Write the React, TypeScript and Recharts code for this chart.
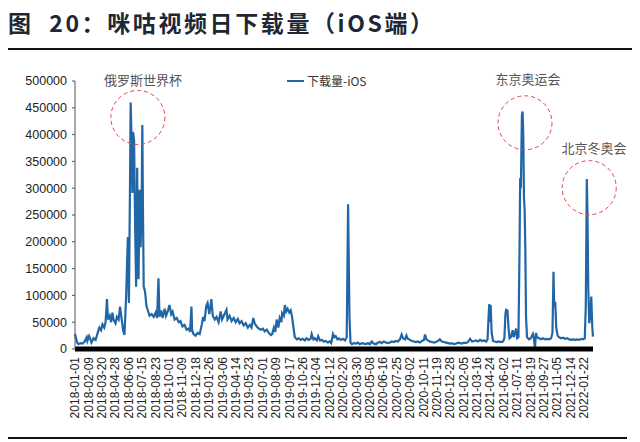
import { LineChart, Line, XAxis, YAxis, ReferenceDot } from 'recharts'

// 每日下载量（iOS），[距 2018-01-01 的天数, 下载量]
const Y2018: [number, number][] = [
  [0, 28000], [3, 20000], [6, 12000], [10, 9000], [16, 11000], [22, 10000], [28, 14000],
  [34, 22000], [36, 15000], [41, 24000], [45, 18000], [48, 12000], [54, 20000], [60, 17000],
  [66, 30000], [71, 40000], [76, 35000], [80, 46000], [85, 40000], [89, 50000], [93, 93000],
  [96, 55000], [101, 62000], [105, 50000], [109, 68000], [112, 55000], [118, 48000],
  [122, 60000], [127, 55000], [131, 79000], [136, 55000], [140, 35000], [144, 26000],
  [149, 100000], [152, 170000], [154, 209000], [157, 86000], [160, 300000], [162, 460000],
  [165, 380000], [167, 291000], [169, 405000], [172, 390000], [175, 230000], [178, 116000],
  [181, 338000], [183, 200000], [185, 130000], [188, 297000], [191, 190000], [194, 270000],
  [196, 418000], [198, 250000], [200, 116000], [203, 110000], [205, 100000], [208, 80000],
  [213, 70000], [217, 62000], [223, 65000], [229, 60000], [235, 68000], [239, 58000],
  [243, 132000], [246, 60000], [251, 72000], [255, 58000], [261, 75000], [265, 62000],
  [270, 70000], [275, 82000], [280, 65000], [284, 70000], [290, 55000], [296, 58000],
  [302, 50000], [307, 52000], [313, 42000], [319, 45000], [325, 36000], [331, 38000],
  [335, 32000], [339, 79000], [341, 35000], [345, 28000], [351, 25000], [357, 30000],
  [363, 28000],
]

const Y2019: [number, number][] = [
  [369, 45000], [373, 60000], [377, 52000], [382, 80000], [386, 86000], [391, 65000],
  [397, 93000], [401, 62000], [407, 55000], [412, 60000], [418, 50000], [424, 70000],
  [428, 55000], [433, 62000], [441, 73000], [444, 55000], [450, 62000], [456, 52000],
  [462, 58000], [468, 50000], [474, 56000], [479, 48000], [485, 52000], [491, 44000],
  [497, 48000], [503, 40000], [509, 45000], [514, 40000], [519, 58000], [523, 48000],
  [529, 42000], [535, 38000], [541, 36000], [547, 38000], [552, 33000], [558, 36000],
  [564, 30000], [570, 26000], [574, 28000], [579, 40000], [583, 32000], [587, 55000],
  [592, 40000], [596, 58000], [601, 50000], [603, 67000], [608, 62000], [611, 82000],
  [615, 70000], [619, 75000], [624, 68000], [628, 72000], [632, 60000], [637, 35000],
  [640, 22000], [646, 18000], [651, 20000], [657, 17000], [663, 19000], [669, 16000],
  [674, 20000], [680, 17000], [686, 19000], [689, 28000], [694, 18000], [698, 20000],
  [704, 16000], [708, 24000], [713, 16000], [719, 17000], [724, 14000],
]

const Y2020: [number, number][] = [
  [730, 15000], [736, 12000], [742, 14000], [746, 11000], [751, 28000], [755, 22000],
  [759, 24000], [764, 18000], [768, 20000], [774, 17000], [780, 19000], [786, 16000],
  [791, 22000], [795, 270000], [799, 60000], [802, 12000], [806, 9000], [812, 11000],
  [818, 10000], [823, 12000], [829, 9000], [835, 11000], [841, 10000], [847, 9000],
  [853, 11000], [858, 9000], [864, 14000], [870, 10000], [876, 9000], [882, 12000],
  [888, 13000], [893, 11000], [899, 14000], [905, 12000], [911, 11000], [917, 12000],
  [922, 14000], [928, 13000], [934, 15000], [940, 14000], [946, 18000], [951, 27000],
  [955, 20000], [961, 18000], [965, 25000], [969, 19000], [975, 17000], [981, 15000],
  [987, 14000], [992, 13000], [998, 14000], [1004, 12000], [1010, 15000], [1016, 17000],
  [1019, 27000], [1023, 18000], [1027, 16000], [1033, 14000], [1039, 13000], [1045, 12000],
  [1051, 13000], [1057, 15000], [1062, 18000], [1068, 14000], [1074, 13000], [1080, 12000],
  [1086, 11000], [1092, 10000],
]

const Y2021: [number, number][] = [
  [1097, 11000], [1103, 9000], [1109, 10000], [1115, 12000], [1121, 11000], [1127, 10000],
  [1132, 12000], [1138, 11000], [1144, 13000], [1150, 19000], [1156, 14000], [1162, 15000],
  [1167, 16000], [1173, 14000], [1179, 17000], [1185, 15000], [1191, 16000], [1197, 14000],
  [1201, 18000], [1204, 60000], [1206, 84000], [1208, 50000], [1210, 82000], [1213, 30000],
  [1217, 15000], [1222, 14000], [1228, 13000], [1234, 14000], [1240, 13000], [1246, 14000],
  [1250, 20000], [1253, 65000], [1255, 73000], [1259, 72000], [1262, 40000], [1265, 20000],
  [1269, 22000], [1274, 35000], [1277, 22000], [1281, 30000], [1284, 38000], [1287, 20000],
  [1291, 22000], [1294, 180000], [1296, 319000], [1298, 300000], [1301, 436000],
  [1303, 443000], [1305, 400000], [1307, 284000], [1309, 260000], [1311, 185000],
  [1313, 60000], [1316, 22000], [1322, 18000], [1327, 20000], [1333, 28000], [1336, 20000],
  [1339, 1000], [1342, 30000], [1345, 22000], [1351, 20000], [1356, 18000], [1362, 20000],
  [1368, 18000], [1374, 19000], [1380, 18000], [1386, 20000], [1390, 30000], [1393, 144000],
  [1395, 80000], [1398, 88000], [1401, 40000], [1405, 25000], [1409, 22000], [1415, 20000],
  [1421, 21000], [1427, 19000], [1433, 20000], [1438, 18000], [1444, 17000], [1450, 18000],
  [1456, 17000],
]

const Y2022: [number, number][] = [
  [1462, 18000], [1468, 17000], [1474, 19000], [1479, 18000], [1484, 20000], [1487, 80000],
  [1490, 317000], [1492, 250000], [1494, 120000], [1497, 48000], [1500, 60000],
  [1503, 98000], [1506, 40000], [1508, 23000],
]

const TICK_LABELS = [
  '2018-01-01', '2018-02-09', '2018-03-20', '2018-04-28', '2018-06-06', '2018-07-15',
  '2018-08-23', '2018-10-01', '2018-11-09', '2018-12-18', '2019-01-26', '2019-03-06',
  '2019-04-14', '2019-05-23', '2019-07-01', '2019-08-09', '2019-09-17', '2019-10-26',
  '2019-12-04', '2020-01-12', '2020-02-20', '2020-03-30', '2020-05-08', '2020-06-16',
  '2020-07-25', '2020-09-02', '2020-10-11', '2020-11-19', '2020-12-28', '2021-02-05',
  '2021-03-16', '2021-04-24', '2021-06-02', '2021-07-11', '2021-08-19', '2021-09-27',
  '2021-11-05', '2021-12-14', '2022-01-22',
]
const TICK_STEP = 39
const Y_TICKS = [0, 50000, 100000, 150000, 200000, 250000, 300000, 350000, 400000, 450000, 500000]

// 标注：[名称, 圆心天数, 圆心数值, 文字天数, 文字数值]
const EVENTS: [string, number, number, number, number][] = [
  ['俄罗斯世界杯', 183, 432000, 198, 500500],
  ['东京奥运会', 1310, 422000, 1319, 503000],
  ['北京冬奥会', 1497, 301000, 1511, 374000],
]

const data = [...Y2018, ...Y2019, ...Y2020, ...Y2021, ...Y2022].map(([day, value]) => ({ day, value }))
const tickDays = TICK_LABELS.map((_, i) => i * TICK_STEP)

const BLUE = '#2166a6'
const AXIS_FONT = '"Liberation Sans", Arial, sans-serif'
const CJK_FONT = '"Noto Sans CJK SC", sans-serif'

function DateTick({ x, y, payload }: any) {
  const label = TICK_LABELS[Math.round(payload.value / TICK_STEP)] ?? ''
  return (
    <g transform={`translate(${x},${y})`}>
      <text transform="rotate(-90)" textAnchor="end" dy="0.35em" fontSize={12} fill="#222" fontFamily={AXIS_FONT}>
        {label}
      </text>
    </g>
  )
}

export default function App() {
  return (
    <div style={{ position: 'absolute', left: 0, top: 0, width: 640, height: 442, background: '#fff' }}>
      <div
        style={{
          position: 'absolute', left: 8, top: 8, fontFamily: CJK_FONT, fontWeight: 700,
          fontSize: 23, lineHeight: '28px', color: '#1e2733', whiteSpace: 'nowrap', letterSpacing: 2.6,
        }}
      >
        图&nbsp;&nbsp;20：咪咕视频日下载量（iOS端）
      </div>
      <div style={{ position: 'absolute', left: 8, top: 48, width: 624, height: 2, background: '#111' }} />
      <div style={{ position: 'absolute', left: 8, top: 437, width: 619, height: 2, background: '#111' }} />

      <div style={{ position: 'absolute', left: 287, top: 72, display: 'flex', alignItems: 'center', whiteSpace: 'nowrap' }}>
        <span style={{ display: 'inline-block', width: 17, height: 2, background: BLUE, marginRight: 3 }} />
        <span style={{ fontFamily: CJK_FONT, fontSize: 12, color: '#333' }}>下载量-iOS</span>
      </div>

      <LineChart
        width={640}
        height={442}
        data={data}
        margin={{ top: 81, right: 47, bottom: 23, left: 0 }}
        style={{ position: 'absolute', left: 0, top: 0 }}
      >
        <XAxis
          dataKey="day"
          type="number"
          domain={[0, 1508]}
          ticks={tickDays}
          interval={0}
          height={70}
          tick={<DateTick />}
          tickLine={false}
          tickSize={6}
          tickMargin={2}
          axisLine={{ stroke: '#000', strokeWidth: 5 }}
        />
        <YAxis
          type="number"
          domain={[0, 500000]}
          ticks={Y_TICKS}
          interval={0}
          width={75}
          tickSize={3}
          tickMargin={5}
          tick={{ fontSize: 12.5, fill: '#222', fontFamily: AXIS_FONT }}
          axisLine={{ stroke: '#555' }}
          tickLine={{ stroke: '#555' }}
        />
        <Line
          type="linear"
          dataKey="value"
          stroke={BLUE}
          strokeWidth={2.2}
          dot={false}
          isAnimationActive={false}
        />
        {EVENTS.map(([name, cx, cy]) => (
          <ReferenceDot
            key={`c-${name}`}
            x={cx}
            y={cy}
            r={27}
            fill="none"
            stroke="#e0434d"
            strokeWidth={1}
            strokeDasharray="4 3"
            ifOverflow="visible"
          />
        ))}
        {EVENTS.map(([name, , , tx, ty]) => (
          <ReferenceDot
            key={`t-${name}`}
            x={tx}
            y={ty}
            r={0}
            fill="none"
            stroke="none"
            ifOverflow="visible"
            label={{ value: name, position: 'center', fontSize: 13, fill: '#555', fontFamily: CJK_FONT }}
          />
        ))}
      </LineChart>
    </div>
  )
}
